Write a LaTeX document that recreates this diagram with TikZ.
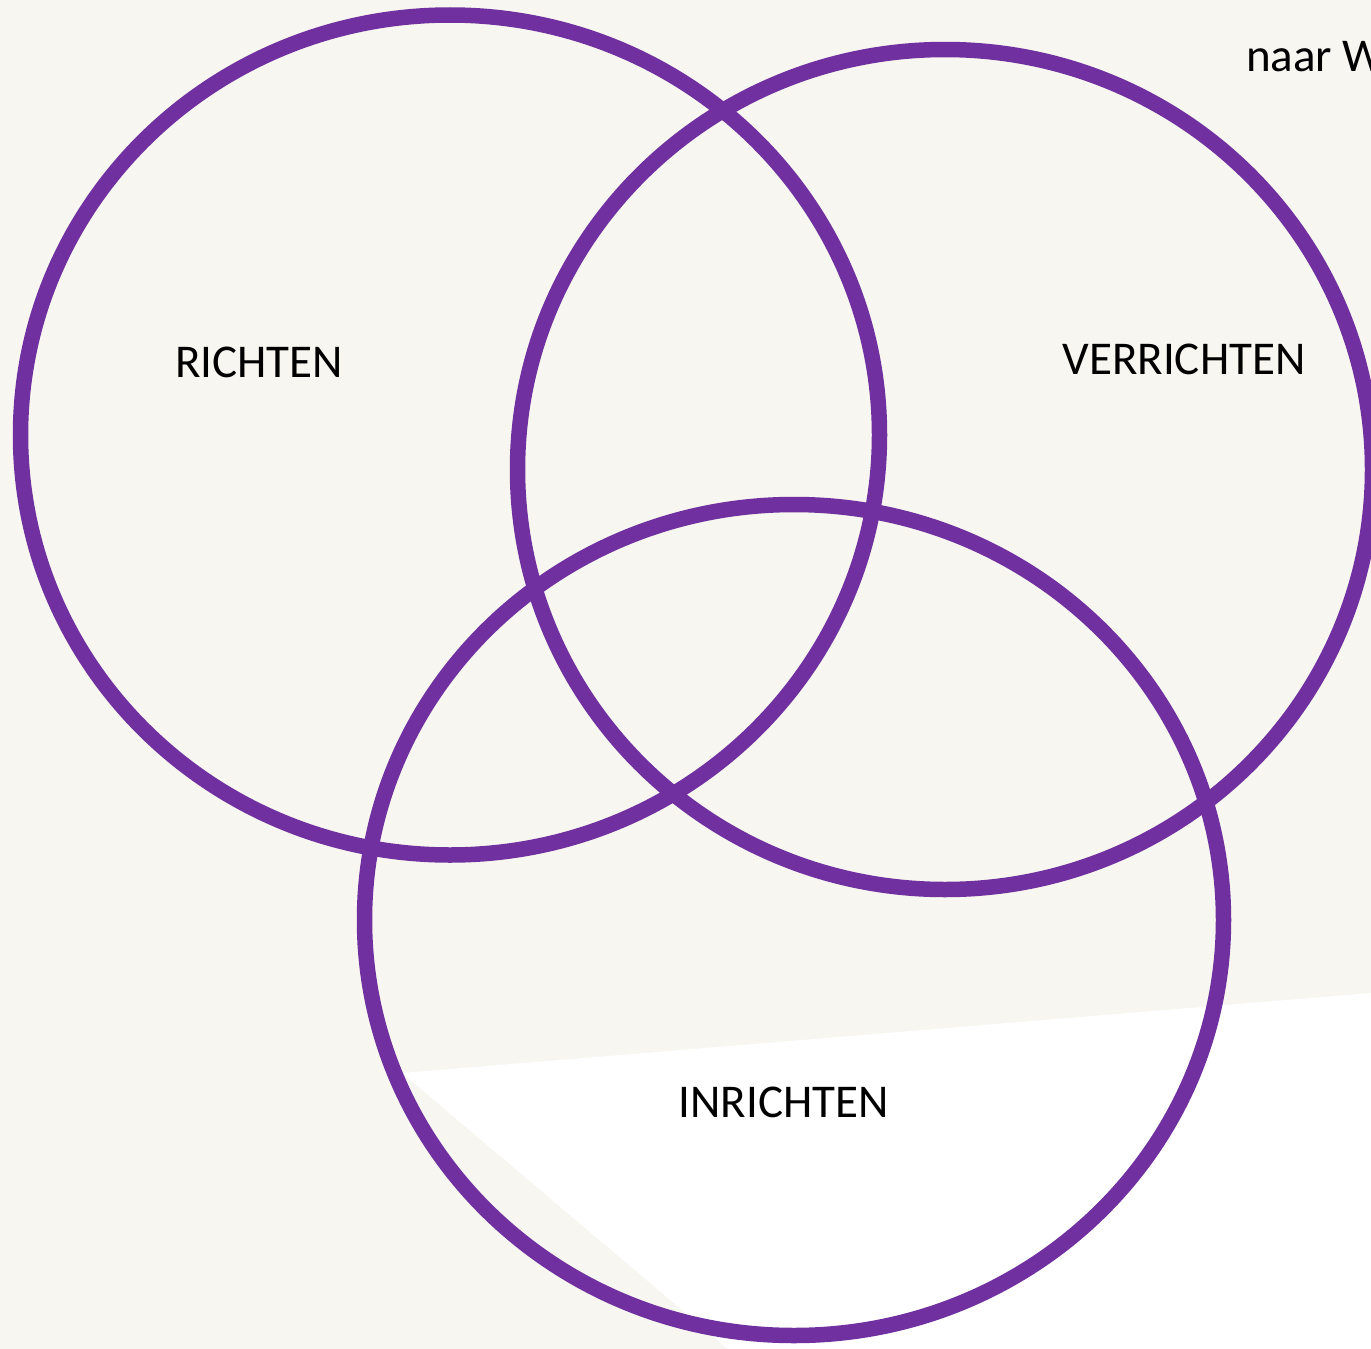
\documentclass[tikz,border=0pt]{standalone}
\usepackage{fontspec}
\setmainfont{Carlito}
\usetikzlibrary{shapes.geometric}
\definecolor{bgbeige}{HTML}{F7F6F1}
\definecolor{vennpurple}{HTML}{7030A0}
\tikzset{
  venn/.style={ellipse, draw=vennpurple, line width=15.5pt, inner sep=0pt},
  lbl/.style={font=\fontsize{47}{56}\selectfont, text=black, inner sep=0pt, anchor=base}
}
\begin{document}
\begin{tikzpicture}[x=1pt,y=-1pt]
\clip (0,0) rectangle (1371,1349);
\fill[bgbeige] (0,0) rectangle (1371,1349);
\fill[white] (402,1073) -- (1371,993) -- (1371,1349) -- (728,1349) -- cycle;
\node[venn, minimum width=859pt, minimum height=840pt] (richten) at (450,435) {};
\node[venn, minimum width=855pt, minimum height=840pt] (verrichten) at (945,469.5) {};
\node[venn, minimum width=859pt, minimum height=831pt] (inrichten) at (794,920) {};
\node[lbl] (t1) at (259,377) {RICHTEN};
\node[lbl] (t2) at (1184,374) {VERRICHTEN};
\node[lbl] (t3) at (783.5,1117) {INRICHTEN};
\node[lbl, anchor=base west] (t4) at (1246,71) {naar W};
\end{tikzpicture}
\end{document}
